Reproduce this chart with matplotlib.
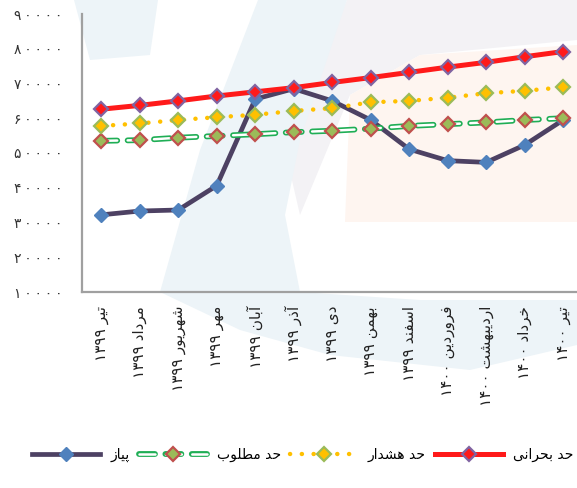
import matplotlib.pyplot as plt
from matplotlib.patches import Polygon
from matplotlib.legend_handler import HandlerTuple

plt.rcParams['font.family'] = ['DejaVu Sans']
plt.rcParams['lines.scale_dashes'] = False

# داده‌ها
months = ['تیر', 'مرداد', 'شهریور', 'مهر', 'آبان', 'آذر', 'دی', 'بهمن',
          'اسفند', 'فروردین', 'اردیبهشت', 'خرداد', 'تیر']
years = ['۱۳۹۹'] * 9 + ['۱۴۰۰'] * 4
bohrani = [62600, 63700, 65000, 66400, 67600, 68800, 70300, 71700,
           73200, 74700, 76100, 77700, 79200]
hoshdar = [57800, 58500, 59500, 60300, 61000, 62100, 62900, 64600,
           65000, 65900, 67200, 67900, 68900]
matloob = [53500, 53700, 54400, 54900, 55400, 56000, 56400, 57000,
           57800, 58300, 58800, 59500, 60000]
piaz = [32200, 33300, 33600, 40600, 65500, 68500, 65000, 59500,
        51100, 47800, 47300, 52300, 59500]
yticks = [10000, 20000, 30000, 40000, 50000, 60000, 70000, 80000, 90000]

# شکل حروف عربی/فارسی (matplotlib حروف را به هم نمی‌چسباند)
FORMS = {
    'ا': ('\uFE8D', '\uFE8E', None, None),
    'آ': ('\uFE81', '\uFE82', None, None),
    'ب': ('\uFE8F', '\uFE90', '\uFE91', '\uFE92'),
    'پ': ('\uFB56', '\uFB57', '\uFB58', '\uFB59'),
    'ت': ('\uFE95', '\uFE96', '\uFE97', '\uFE98'),
    'ح': ('\uFEA1', '\uFEA2', '\uFEA3', '\uFEA4'),
    'خ': ('\uFEA5', '\uFEA6', '\uFEA7', '\uFEA8'),
    'د': ('\uFEA9', '\uFEAA', None, None),
    'ذ': ('\uFEAB', '\uFEAC', None, None),
    'ر': ('\uFEAD', '\uFEAE', None, None),
    'ز': ('\uFEAF', '\uFEB0', None, None),
    'س': ('\uFEB1', '\uFEB2', '\uFEB3', '\uFEB4'),
    'ش': ('\uFEB5', '\uFEB6', '\uFEB7', '\uFEB8'),
    'ط': ('\uFEC1', '\uFEC2', '\uFEC3', '\uFEC4'),
    'ف': ('\uFED1', '\uFED2', '\uFED3', '\uFED4'),
    'ل': ('\uFEDD', '\uFEDE', '\uFEDF', '\uFEE0'),
    'م': ('\uFEE1', '\uFEE2', '\uFEE3', '\uFEE4'),
    'ن': ('\uFEE5', '\uFEE6', '\uFEE7', '\uFEE8'),
    'ه': ('\uFEE9', '\uFEEA', '\uFEEB', '\uFEEC'),
    'و': ('\uFEED', '\uFEEE', None, None),
    'ی': ('\uFBFC', '\uFBFD', '\uFBFE', '\uFBFF'),
}


def shape(txt):
    txt = txt.replace('\u064A', '\u06CC')
    out = []
    for i, ch in enumerate(txt):
        if ch not in FORMS:
            out.append(ch)
            continue
        prev = txt[i - 1] if i > 0 else ''
        nxt = txt[i + 1] if i + 1 < len(txt) else ''
        jp = prev in FORMS and FORMS[prev][2] is not None
        jn = FORMS[ch][2] is not None and nxt in FORMS
        iso, fin, ini, med = FORMS[ch]
        if jp and jn:
            out.append(med)
        elif jp:
            out.append(fin)
        elif jn:
            out.append(ini)
        else:
            out.append(iso)
    return ''.join(out)[::-1]


fa_digits = str.maketrans('0123456789', '۰۱۲۳۴۵۶۷۸۹')

fig = plt.figure(figsize=(5.77, 4.88), dpi=100)


# واترمارک کم‌رنگ پس‌زمینه (تقریبی، بر حسب پیکسل)
def wm(pts, color):
    xy = [(px / 577, 1 - py / 488) for px, py in pts]
    fig.patches.append(Polygon(xy, closed=True, transform=fig.transFigure,
                               facecolor=color, edgecolor='none', zorder=0))


wm([(347, 0), (577, 0), (577, 40), (420, 55), (350, 95), (300, 215),
    (285, 150)], '#F3F2F5')
wm([(350, 95), (420, 55), (577, 45), (577, 222), (345, 222)], '#FEF5F0')
wm([(74, 0), (158, 0), (150, 55), (90, 60)], '#EDF4F8')
wm([(258, 0), (347, 0), (300, 140), (285, 215), (300, 292), (160, 292),
    (200, 150)], '#EDF4F8')
wm([(160, 292), (300, 292), (420, 300), (577, 300), (577, 345),
    (470, 370), (330, 355), (240, 330)], '#EDF4F8')

ax = fig.add_axes([82 / 577, 196 / 488, 495 / 577, 278 / 488])
ax.set_zorder(1)
ax.patch.set_alpha(0)
x = list(range(len(months)))

# پیاز
l_piaz, = ax.plot(x, piaz, color='#4D4163', lw=3.4, marker='D', ms=7,
                  mfc='#4F81BD', mec='#4F81BD', zorder=2)

# حد مطلوب (خط چین توخالی)
g_out, = ax.plot(x, matloob, color='#1FAE55', lw=4.2, ls=(0, (11.5, 7.5)),
                 dash_capstyle='round', zorder=3)
g_in, = ax.plot(x, matloob, color='white', lw=1.8, ls=(0, (11.5, 7.5)),
                dash_capstyle='round', zorder=3)
g_mk, = ax.plot(x, matloob, ls='none', marker='D', ms=7, mfc='#9BBB59',
                mec='#C0504D', mew=1.6, zorder=3)

# حد هشدار
l_hosh, = ax.plot(x, hoshdar, color='#FFC000', lw=3.2, ls=(0, (0.1, 8.4)),
                  dash_capstyle='round', marker='D', ms=7, mfc='#FFC000',
                  mec='#9BBB59', mew=1.6, zorder=4)

# حد بحرانی
l_boh, = ax.plot(x, bohrani, color='#FF1A1A', lw=3.6, marker='D', ms=7,
                 mfc='#FF1A1A', mec='#8064A2', mew=1.6, zorder=5)

ax.set_xlim(-0.5, 12.36)
ax.set_ylim(10000, 90000)
ax.set_yticks(yticks)
ax.set_yticklabels(['\u2009'.join(str(v).translate(fa_digits)) for v in yticks],
                   fontsize=10, color='#333333')
ax.set_xticks(x)
ax.set_xticklabels([y + ' ' + shape(m) for m, y in zip(months, years)],
                   rotation=90, va='top', ha='center', fontsize=11,
                   color='#222222')
ax.tick_params(axis='y', length=0, pad=14)
ax.tick_params(axis='x', length=0, pad=10)
for s in ['top', 'right']:
    ax.spines[s].set_visible(False)
for s in ['left', 'bottom']:
    ax.spines[s].set_color('#A0A0A0')
    ax.spines[s].set_linewidth(1.6)

fig.legend([l_piaz, (g_out, g_in, g_mk), l_hosh, l_boh],
           [shape('پیاز'), shape('حد مطلوب'), shape('حد هشدار'), shape('حد بحرانی')],
           handler_map={tuple: HandlerTuple(ndivide=1, pad=0)},
           loc='center', bbox_to_anchor=(0.525, 0.068), ncol=4, frameon=False,
           fontsize=10, handlelength=4.9, handletextpad=0.72, columnspacing=0.65,
           numpoints=1)

fig.savefig('out.png', dpi=100)
